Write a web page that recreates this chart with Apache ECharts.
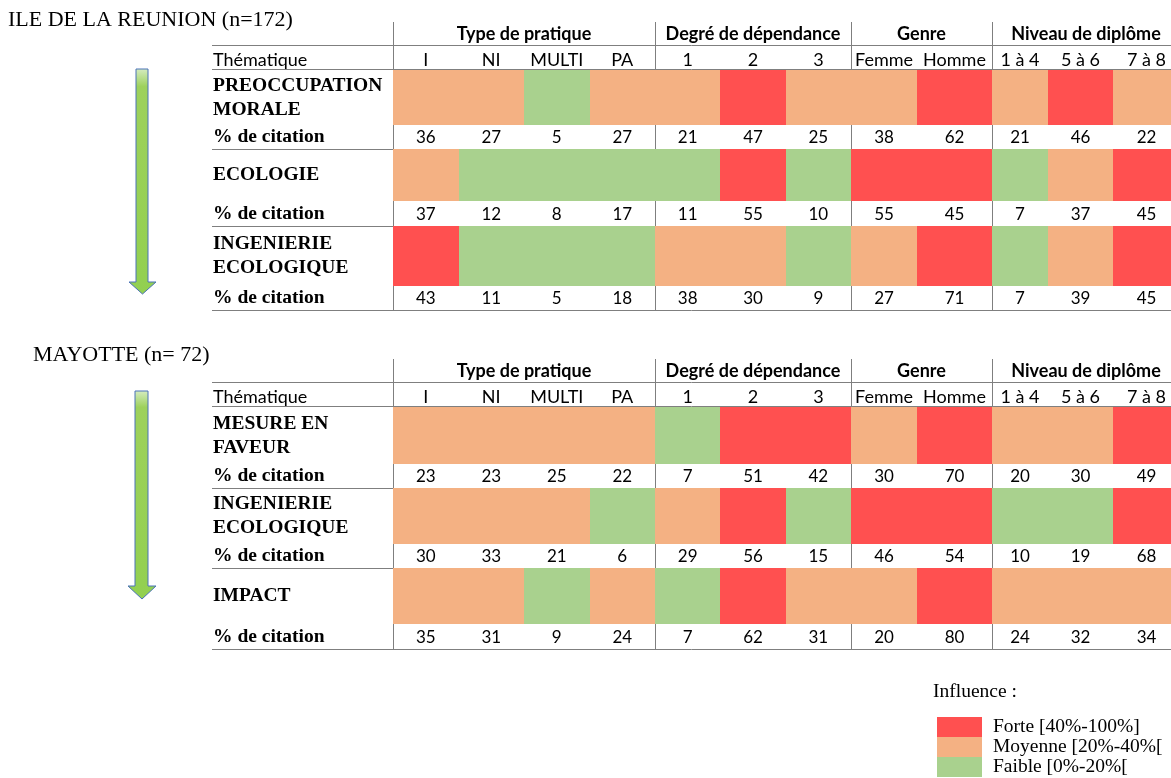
<!DOCTYPE html>
<html>
<head>
<meta charset="utf-8">
<script src="https://cdn.jsdelivr.net/npm/echarts@6/dist/echarts.min.js"></script>
<style>
html, body { margin: 0; padding: 0; background: #fff; }
#main { width: 1171px; height: 778px; }
</style>
</head>
<body>
<div id="main"></div>
<script>
// ---- data ----
var columns = ['I', 'NI', 'MULTI', 'PA', '1', '2', '3', 'Femme', 'Homme', '1 à 4', '5 à 6', '7 à 8'];
var groups = ['Type de pratique', 'Degré de dépendance', 'Genre', 'Niveau de diplôme'];
var groupSpans = [4, 3, 2, 3];

var reunionThemes = ['PREOCCUPATION\nMORALE', 'ECOLOGIE', 'INGENIERIE\nECOLOGIQUE'];
var reunionValues = [
    [36, 27, 5, 27, 21, 47, 25, 38, 62, 21, 46, 22],
    [37, 12, 8, 17, 11, 55, 10, 55, 45, 7, 37, 45],
    [43, 11, 5, 18, 38, 30, 9, 27, 71, 7, 39, 45]
];

var mayotteThemes = ['MESURE EN\nFAVEUR', 'INGENIERIE\nECOLOGIQUE', 'IMPACT'];
var mayotteValues = [
    [23, 23, 25, 22, 7, 51, 42, 30, 70, 20, 30, 49],
    [30, 33, 21, 6, 29, 56, 15, 46, 54, 10, 19, 68],
    [35, 31, 9, 24, 7, 62, 31, 20, 80, 24, 32, 34]
];

var influenceLabels = ['Faible [0%-20%[', 'Moyenne [20%-40%[', 'Forte [40%-100%]'];
var influenceBounds = [0, 20, 40, 100];
var influenceColors = ['#A9D18E', '#F4B183', '#FF5050'];

// ---- layout ----
var SERIF = '"Liberation Serif", "Times New Roman", serif';
var SANS = 'Lato, "Noto Sans", sans-serif';
var GRID_LEFT = 393, GRID_W = 778;
var LABEL_X = 212, RIGHT_X = 1171;
var LINE_COLOR = '#7f7f7f';
// column borders, px from the table's left edge (the last column runs past the page edge)
var COL_EDGES = [0, 65.5, 131, 196.5, 262, 327.3, 392.7, 458, 524, 599, 655, 720, 787];

var tables = [
    {
        title: 'ILE DE LA REUNION (n=172)', titleX: 8, titleY: 20,
        top: 70, rowEdges: [0, 55, 79, 131, 156, 216, 240],
        themes: reunionThemes, values: reunionValues,
        arrow: { top: 69, headTop: 282, tip: 294, l: 136, r: 148, hl: 129, hr: 156 }
    },
    {
        title: 'MAYOTTE (n= 72)', titleX: 33, titleY: 355,
        top: 407, rowEdges: [0, 57, 81, 137, 161, 217, 242],
        themes: mayotteThemes, values: mayotteValues,
        arrow: { top: 391, headTop: 586, tip: 599, l: 135, r: 148, hl: 128, hr: 156 }
    }
];

function txt(x, y, text, font, align, extra) {
    var st = {
        text: text, fill: '#000', font: font,
        align: align, textAlign: align,
        verticalAlign: 'middle', textVerticalAlign: 'middle'
    };
    if (extra) { for (var k in extra) st[k] = extra[k]; }
    return { type: 'text', x: x, y: y, style: st, silent: true };
}
function hline(y, x0, x1) {
    y = Math.round(y) + 0.5;
    return { type: 'line', shape: { x1: x0, y1: y, x2: x1, y2: y }, style: { stroke: LINE_COLOR, lineWidth: 1 }, silent: true };
}
function vline(x, y0, y1) {
    x = Math.round(x) + 0.5;
    return { type: 'line', shape: { x1: x, y1: y0, x2: x, y2: y1 }, style: { stroke: LINE_COLOR, lineWidth: 1 }, silent: true };
}

function makeRenderer(rowEdges) {
    return function (params, api) {
        var col = api.value(0), row = api.value(1);
        var x0 = COL_EDGES[col], x1 = COL_EDGES[col + 1];
        var bTop = rowEdges[2 * row], bBot = rowEdges[2 * row + 1], vBot = rowEdges[2 * row + 2];
        var p0 = api.coord([x0, bTop]), p1 = api.coord([x1, bBot]);
        var pv = api.coord([(x0 + x1) / 2, (bBot + vBot) / 2]);
        var rx = Math.round(p0[0]), ry = Math.round(p0[1]);
        return {
            type: 'group',
            children: [
                {
                    type: 'rect',
                    shape: { x: rx, y: ry, width: Math.round(p1[0]) - rx, height: Math.round(p1[1]) - ry },
                    style: { fill: api.visual('color') }
                },
                {
                    type: 'text', x: pv[0], y: pv[1] + 1,
                    style: {
                        text: String(api.value(2)), fill: '#000',
                        fontSize: 17, fontFamily: SANS,
                        align: 'center', verticalAlign: 'middle'
                    }
                }
            ]
        };
    };
}

var grids = [], xAxes = [], yAxes = [], series = [], graphics = [];

tables.forEach(function (t, ti) {
    var H = t.rowEdges[t.rowEdges.length - 1];
    grids.push({ left: GRID_LEFT, top: t.top, width: GRID_W, height: H });
    xAxes.push({ type: 'value', gridIndex: ti, min: 0, max: GRID_W, show: false });
    yAxes.push({ type: 'value', gridIndex: ti, min: 0, max: H, inverse: true, show: false });

    var data = [];
    t.values.forEach(function (rowVals, r) {
        rowVals.forEach(function (v, c) { data.push([c, r, v]); });
    });
    series.push({
        type: 'custom',
        name: t.title,
        xAxisIndex: ti, yAxisIndex: ti,
        renderItem: makeRenderer(t.rowEdges),
        clip: false,
        data: data,
        z: 3
    });

    // table rules
    var headTop = t.top - 48, headLine = t.top - 25;
    graphics.push(hline(headLine, LABEL_X, RIGHT_X));
    graphics.push(hline(t.top - 1, LABEL_X, RIGHT_X));
    [2, 4, 6].forEach(function (i) { graphics.push(hline(t.top + t.rowEdges[i], LABEL_X, RIGHT_X)); });
    var gi = 0;
    graphics.push(vline(GRID_LEFT, headTop, t.top + H));
    groupSpans.forEach(function (span, g) {
        var c0 = gi, c1 = gi + span;
        var x0 = GRID_LEFT + COL_EDGES[c0], x1 = GRID_LEFT + COL_EDGES[c1];
        if (g > 0) graphics.push(vline(x0, headTop, t.top + H));
        graphics.push(txt((x0 + x1) / 2, t.top - 36, groups[g], 'bold 18px ' + SANS, 'center'));
        gi = c1;
    });
    columns.forEach(function (c, i) {
        var xc = GRID_LEFT + (COL_EDGES[i] + COL_EDGES[i + 1]) / 2;
        graphics.push(txt(xc, t.top - 10, c, '18px ' + SANS, 'center'));
    });
    graphics.push(txt(LABEL_X + 1, t.top - 10, 'Thématique', '18px ' + SANS, 'left'));

    // row labels
    t.themes.forEach(function (name, r) {
        var bc = t.top + (t.rowEdges[2 * r] + t.rowEdges[2 * r + 1]) / 2;
        var vc = t.top + (t.rowEdges[2 * r + 1] + t.rowEdges[2 * r + 2]) / 2;
        graphics.push(txt(LABEL_X + 1, bc, name, 'bold 19.5px ' + SERIF, 'left', { lineHeight: 24 }));
        graphics.push(txt(LABEL_X + 1, vc, '% de citation', 'bold 19.5px ' + SERIF, 'left'));
    });

    // title
    graphics.push(txt(t.titleX, t.titleY, t.title, '22px ' + SERIF, 'left'));

    // arrow
    var a = t.arrow, xm = (a.hl + a.hr) / 2;
    graphics.push({
        type: 'polygon', silent: true,
        shape: { points: [[a.l, a.top], [a.r, a.top], [a.r, a.headTop], [a.hr, a.headTop], [xm, a.tip], [a.hl, a.headTop], [a.l, a.headTop]] },
        style: {
            fill: {
                type: 'linear', x: 0, y: 0, x2: 0, y2: 1,
                colorStops: [{ offset: 0, color: '#d6ecc2' }, { offset: 0.08, color: '#9dd15c' }, { offset: 1, color: '#92D050' }]
            },
            stroke: '#4a72b8', lineWidth: 1
        }
    });
});

graphics.push(txt(933, 692, 'Influence :', '19.5px ' + SERIF, 'left'));

var pieces = influenceLabels.map(function (lab, i) {
    var p = { gte: influenceBounds[i], label: lab, color: influenceColors[i] };
    if (i === influenceLabels.length - 1) p.lte = influenceBounds[i + 1]; else p.lt = influenceBounds[i + 1];
    return p;
});

var chart = echarts.init(document.getElementById('main'));
var option = {
    backgroundColor: '#fff',
    animation: false,
    grid: grids,
    xAxis: xAxes,
    yAxis: yAxes,
    visualMap: {
        type: 'piecewise',
        seriesIndex: [0, 1],
        dimension: 2,
        pieces: pieces,
        orient: 'vertical',
        align: 'left',
        left: 937,
        top: 717,
        padding: 0,
        itemWidth: 45,
        itemHeight: 20,
        itemGap: 0,
        textGap: 11,
        itemSymbol: 'rect',
        selectedMode: false,
        textStyle: { color: '#000', fontFamily: SERIF, fontSize: 19.5 }
    },
    graphic: { elements: graphics },
    series: series
};
chart.setOption(option);
</script>
</body>
</html>
